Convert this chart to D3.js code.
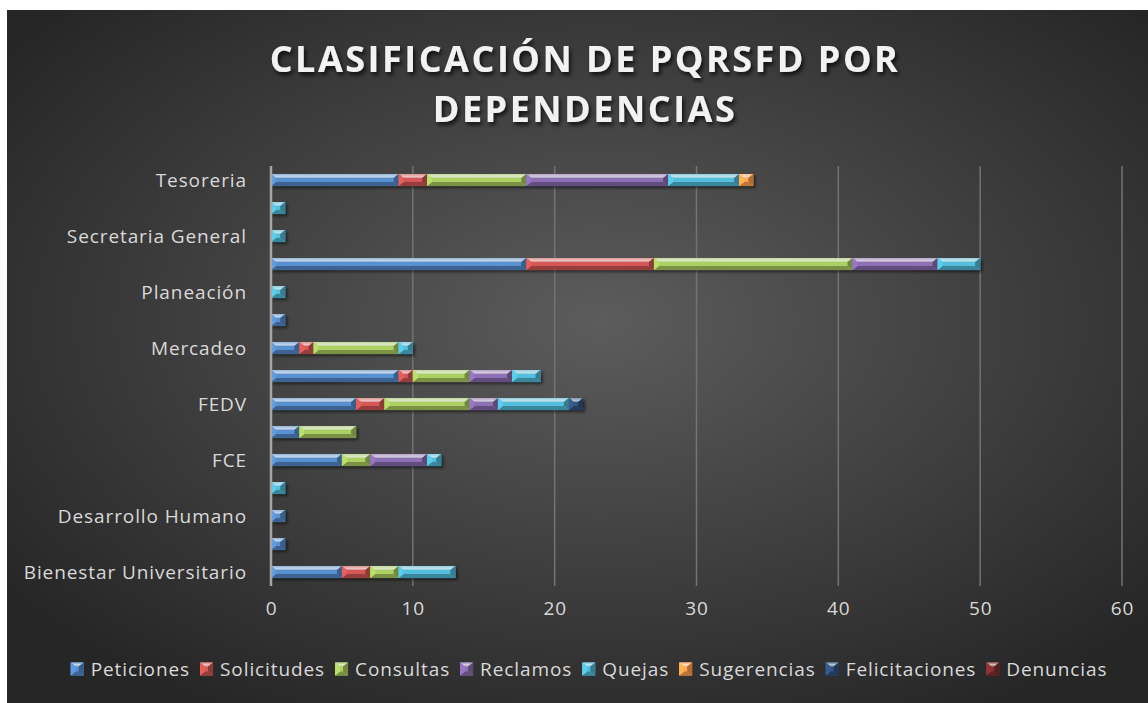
<!DOCTYPE html>
<html>
<head>
<meta charset="utf-8">
<script src="https://cdn.jsdelivr.net/npm/d3@7"></script>
<style>
  html, body { margin: 0; padding: 0; background: #fff; }
  svg { display: block; }
  text { font-family: "Open Sans", "Noto Sans", sans-serif; }
</style>
</head>
<body>
<div class="canvas"></div>
<script>
const dimension = {'width': 1148, 'height': 703};
const margin = {'left': 271, 'right': 26, 'top': 166, 'bottom': 117};

// categories, bottom to top (as Excel draws them)
const categories = ['Bienestar Universitario', 'Crédito y Cartera', 'Desarrollo Humano', 'Egresados',
  'FCE', 'FCHS', 'FEDV', 'FI', 'Mercadeo', 'Oficina Internacional', 'Planeación',
  'Registro Académico', 'Secretaria General', 'Sistemas', 'Tesoreria'];

const seriesNames = ['Peticiones', 'Solicitudes', 'Consultas', 'Reclamos', 'Quejas',
  'Sugerencias', 'Felicitaciones', 'Denuncias'];

const peticiones     = [5, 1, 1, 0, 5, 2, 6, 9, 2, 1, 0, 18, 0, 0, 9];
const solicitudes    = [2, 0, 0, 0, 0, 0, 2, 1, 1, 0, 0, 9, 0, 0, 2];
const consultas      = [2, 0, 0, 0, 2, 4, 6, 4, 6, 0, 0, 14, 0, 0, 7];
const reclamos       = [0, 0, 0, 0, 4, 0, 2, 3, 0, 0, 0, 6, 0, 0, 10];
const quejas         = [4, 0, 0, 1, 1, 0, 5, 2, 1, 0, 1, 3, 1, 1, 5];
const sugerencias    = [0, 0, 0, 0, 0, 0, 0, 0, 0, 0, 0, 0, 0, 0, 1];
const felicitaciones = [0, 0, 0, 0, 0, 0, 1, 0, 0, 0, 0, 0, 0, 0, 0];
const denuncias      = [0, 0, 0, 0, 0, 0, 0, 0, 0, 0, 0, 0, 0, 0, 0];

const xTicks = [0, 10, 20, 30, 40, 50, 60];
const colors = ['#4F81BD', '#C0504D', '#9BBB59', '#8064A2', '#4BACC6', '#F79646', '#2C4D75', '#772C2A'];

const seriesValues = [peticiones, solicitudes, consultas, reclamos, quejas, sugerencias, felicitaciones, denuncias];
const table = categories.map((c, i) => {
  const row = {name: c};
  seriesNames.forEach((s, j) => row[s] = seriesValues[j][i]);
  return row;
});

const svg = d3.select('.canvas')
  .append('svg')
  .attr('width', dimension.width)
  .attr('height', dimension.height);

const defs = svg.append('defs');

// background gradient
const bg = defs.append('radialGradient').attr('id', 'bg')
  .attr('cx', '52%').attr('cy', '45%').attr('r', '65%');
bg.append('stop').attr('offset', '0%').attr('stop-color', '#5c5c5c');
bg.append('stop').attr('offset', '100%').attr('stop-color', '#262626');

const shadow = defs.append('filter').attr('id', 'shadow')
  .attr('x', '-5%').attr('y', '-50%').attr('width', '110%').attr('height', '200%');
shadow.append('feDropShadow').attr('dx', 2).attr('dy', 2).attr('stdDeviation', 1.5)
  .attr('flood-color', '#000').attr('flood-opacity', 0.55);

const tshadow = defs.append('filter').attr('id', 'tshadow')
  .attr('x', '-10%').attr('y', '-30%').attr('width', '120%').attr('height', '160%');
tshadow.append('feDropShadow').attr('dx', 2).attr('dy', 3).attr('stdDeviation', 2)
  .attr('flood-color', '#000').attr('flood-opacity', 0.75);

svg.append('rect')
  .attr('x', 7).attr('y', 10)
  .attr('width', dimension.width - 7).attr('height', dimension.height - 10)
  .attr('fill', 'url(#bg)');

// title
const title = svg.append('g').attr('filter', 'url(#tshadow)');
['CLASIFICACIÓN DE PQRSFD POR', 'DEPENDENCIAS'].forEach((t, i) => {
  title.append('text')
    .attr('x', 585).attr('y', 72 + i * 50)
    .attr('text-anchor', 'middle')
    .attr('font-size', 36).attr('font-weight', 700)
    .attr('letter-spacing', 2.5)
    .attr('fill', '#f2f2f2')
    .text(t);
});

// scales
const x = d3.scaleLinear().domain([0, 60])
  .range([margin.left, 1122]);
const y = d3.scaleBand().domain(categories)
  .range([dimension.height - margin.bottom, margin.top])
  .paddingInner(0.57).paddingOuter(0.285);

// gridlines
svg.append('g').selectAll('line').data(xTicks.slice(1)).join('line')
  .attr('x1', d => x(d)).attr('x2', d => x(d))
  .attr('y1', margin.top).attr('y2', dimension.height - margin.bottom)
  .attr('stroke', '#737373').attr('stroke-width', 1.5);

// x axis labels
const xAxis = svg.append('g')
  .attr('transform', `translate(0,${dimension.height - margin.bottom})`)
  .call(d3.axisBottom(x).tickValues(xTicks).tickSize(0).tickPadding(16));
xAxis.select('.domain').remove();
xAxis.selectAll('text')
  .attr('font-size', 19).attr('fill', '#d9d9d9')
  .attr('letter-spacing', 0.9)
  .attr('font-family', '"Open Sans", sans-serif');

// stacked bars
const stack = d3.stack().keys(seriesNames);
const stacked = stack(table);
const col = d3.scaleOrdinal().domain(seriesNames).range(colors);

const bevel = (g, x0, y0, w, h, c) => {
  const s = Math.min(5, w / 2), t = 4;
  const base = d3.color(c);
  g.append('rect').attr('x', x0).attr('y', y0).attr('width', w).attr('height', h)
    .attr('fill', base.brighter(0.3));
  // top
  g.append('polygon')
    .attr('points', [[x0, y0], [x0 + w, y0], [x0 + w - s, y0 + t], [x0 + s, y0 + t]].join(' '))
    .attr('fill', d3.interpolateRgb(c, '#ffffff')(0.45));
  g.append('line')
    .attr('x1', x0 + s * 0.6).attr('x2', x0 + w - s * 0.6)
    .attr('y1', y0 + 2.2).attr('y2', y0 + 2.2)
    .attr('stroke', d3.interpolateRgb(c, '#ffffff')(0.7)).attr('stroke-width', 1.2);
  // bottom
  g.append('polygon')
    .attr('points', [[x0, y0 + h], [x0 + w, y0 + h], [x0 + w - s, y0 + h - t], [x0 + s, y0 + h - t]].join(' '))
    .attr('fill', base.darker(0.7));
  // left
  g.append('polygon')
    .attr('points', [[x0, y0], [x0 + s, y0 + t], [x0 + s, y0 + h - t], [x0, y0 + h]].join(' '))
    .attr('fill', base.brighter(0.5));
  // right
  g.append('polygon')
    .attr('points', [[x0 + w, y0], [x0 + w - s, y0 + t], [x0 + w - s, y0 + h - t], [x0 + w, y0 + h]].join(' '))
    .attr('fill', base.darker(0.9));
};

const barGroup = svg.append('g').attr('filter', 'url(#shadow)');
stacked.forEach(layer => {
  layer.forEach(d => {
    const w = x(d[1]) - x(d[0]);
    if (w <= 0) return;
    bevel(barGroup.append('g'), x(d[0]), y(d.data.name), w, y.bandwidth(), col(layer.key));
  });
});

// vertical axis line
svg.append('line')
  .attr('x1', x(0)).attr('x2', x(0))
  .attr('y1', margin.top).attr('y2', dimension.height - margin.bottom)
  .attr('stroke', '#a6a6a6').attr('stroke-width', 2.5);

// y labels (every other category, as in the original)
svg.append('g').selectAll('text')
  .data(categories.filter((c, i) => i % 2 === 0))
  .join('text')
  .attr('x', 247)
  .attr('y', d => y(d) + y.bandwidth() / 2)
  .attr('dy', '0.35em')
  .attr('text-anchor', 'end')
  .attr('font-size', 19).attr('letter-spacing', 0.9).attr('fill', '#d9d9d9')
  .text(d => d);

// legend
const legend = svg.append('g');
const items = legend.selectAll('g').data(seriesNames).join('g');
items.append('text')
  .attr('x', 20).attr('y', 0).attr('dy', '0.35em')
  .attr('font-size', 19).attr('letter-spacing', 0.9).attr('fill', '#d9d9d9')
  .text(d => d);
let pos = 0;
const widths = [];
items.each(function () {
  widths.push(this.querySelector('text').getComputedTextLength());
});
items.each(function (d, i) {
  const g = d3.select(this);
  g.attr('transform', `translate(${pos},0)`);
  bevel(g.append('g'), 0, -6.5, 13, 13, col(d));
  pos += 20 + widths[i] + 10;
});
const total = pos - 10;
legend.attr('transform', `translate(${589 - total / 2},669)`);
</script>
</body>
</html>
